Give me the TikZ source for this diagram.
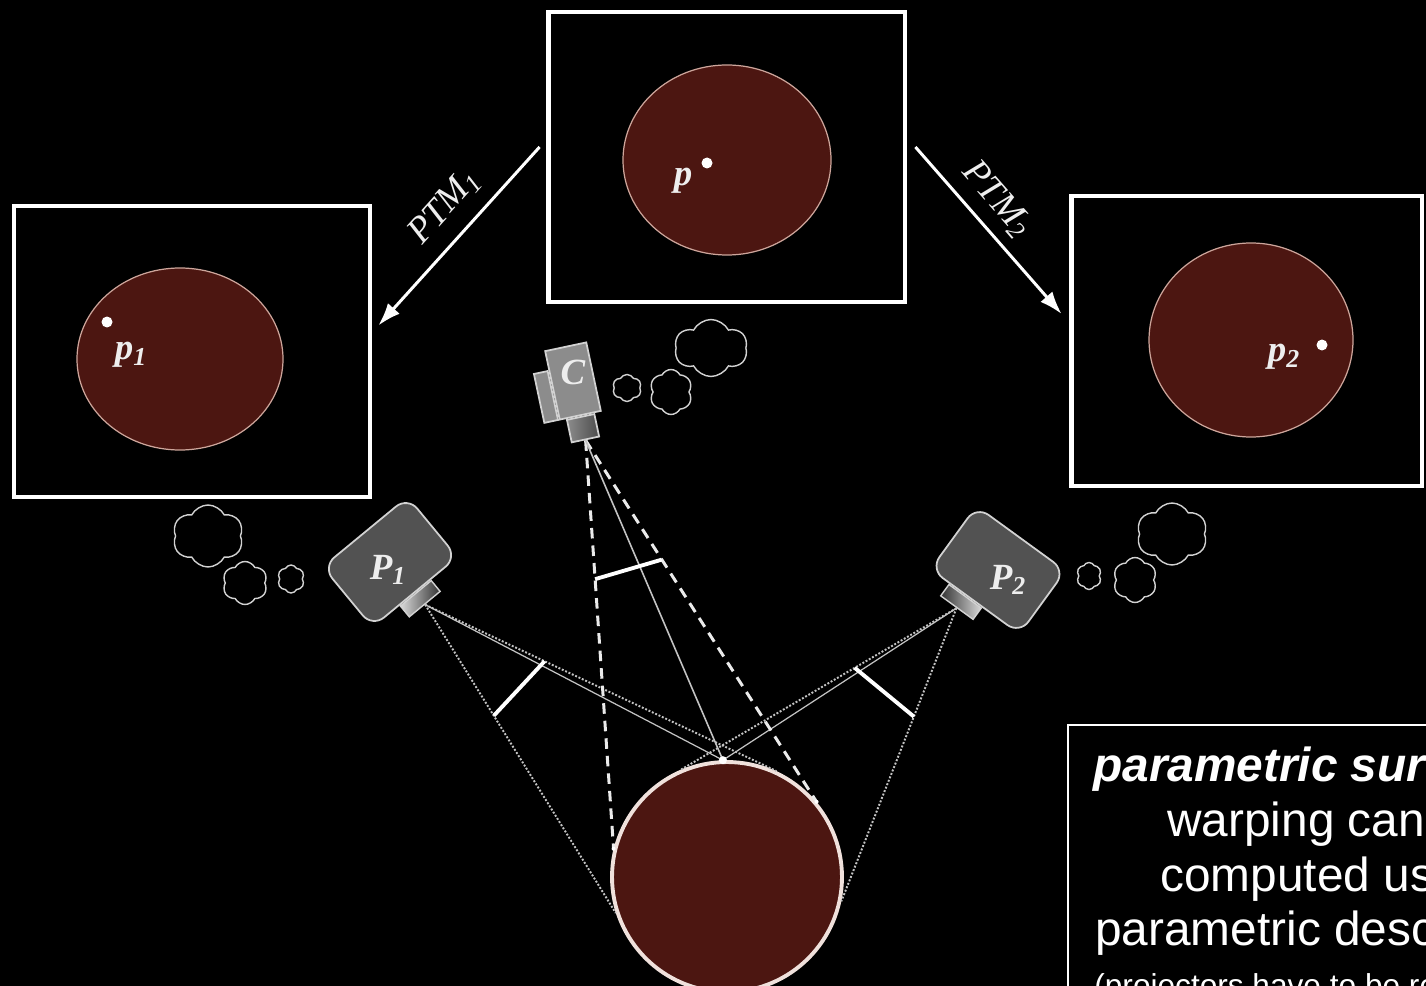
\documentclass[tikz,border=0pt]{standalone}
\usepackage{fontspec}
\setmainfont{Liberation Sans}
\newfontfamily\lblfont{Liberation Serif}
\usetikzlibrary{calc,shapes.symbols,arrows.meta}

\definecolor{surfred}{RGB}{76,22,17}
\definecolor{surfrim}{RGB}{205,165,155}
\definecolor{projgray}{RGB}{82,82,82}
\definecolor{camgray}{RGB}{140,140,140}
\definecolor{edgegray}{RGB}{210,210,210}
\definecolor{raygray}{RGB}{195,195,195}
\definecolor{lblwhite}{RGB}{238,238,238}

\tikzset{
  frame/.style={draw=white, line width=2.8pt, inner sep=0, minimum height=5.8cm},
  surfline/.style={draw=surfrim, line width=0.7pt, fill=surfred},
  pdot/.style={circle, fill=white, inner sep=0, minimum size=0.22cm},
  lbl/.style={text=lblwhite, inner sep=1pt, font=\lblfont\bfseries\itshape\fontsize{21}{21}\selectfont},
  ptmlbl/.style={text=lblwhite, inner sep=2pt, font=\lblfont\itshape\fontsize{21}{21}\selectfont},
  proj/.style={draw=edgegray, line width=1pt, fill=projgray, rounded corners=0.3cm,
    minimum width=2.2cm, minimum height=1.56cm, inner sep=0},
  lens/.style={draw=edgegray, line width=0.8pt, left color=white!85!black, right color=black!80,
    minimum width=0.8cm, minimum height=0.28cm, inner sep=0},
  cambody/.style={draw=edgegray, line width=1pt, fill=camgray, minimum width=0.84cm, minimum height=1.4cm, inner sep=0},
  campart/.style={draw=edgegray, line width=1pt, fill=camgray, minimum width=0.28cm, minimum height=1cm, inner sep=0},
  camlens/.style={draw=edgegray, line width=1pt, left color=camgray, right color=black!70,
    minimum width=0.56cm, minimum height=0.46cm, inner sep=0},
  puff/.style={cloud, draw=edgegray, line width=0.8pt, cloud puffs=6, cloud puff arc=125,
    cloud ignores aspect, inner sep=0},
  surface/.style={circle, draw={rgb,255:red,240;green,225;blue,220}, line width=2.2pt, fill=surfred,
    minimum size=4.6cm, inner sep=0},
  ptm/.style={draw=white, line width=1.7pt, -{Latex[length=13pt,width=9pt]}},
  frust/.style={draw=raygray, line width=1.1pt, densely dotted},
  ray/.style={draw=raygray, line width=0.7pt},
  camray/.style={draw=white!92!black, line width=1.7pt, dash pattern=on 6pt off 4pt},
  plane/.style={draw=white, line width=2.2pt},
  txt/.style={text=white, anchor=base west, inner sep=0, font=\fontsize{27.2}{31}\selectfont}
}

\begin{document}
\begin{tikzpicture}[x=0.02cm, y=-0.02cm]
\useasboundingbox (0,0) rectangle (1426,986);
\fill[black] (0,0) rectangle (1426,986);
\clip (0,0) rectangle (1426,986);

% the three views
\node[frame, minimum width=7.14cm] (top) at (726.5,157) {};
\draw[surfline] (727,160) ellipse [x radius=104, y radius=95];
\node[pdot] (d0) at (707,163) {};
\node[lbl] (lp) at (683,181) {p};

\node[frame, minimum width=7.12cm, minimum height=5.82cm] (lbox) at (192,351.5) {};
\draw[surfline] (180,359) ellipse [x radius=103, y radius=91];
\node[pdot] (d1) at (107,322) {};
\node[lbl] (lp1) at (131,355) {p\textsubscript{1}};

\node[frame, minimum width=7.02cm] (rbox) at (1246.5,341) {};
\draw[surfline] (1251,340) ellipse [x radius=102, y radius=97];
\node[pdot] (d2) at (1322,345) {};
\node[lbl] (lp2) at (1284,357) {p\textsubscript{2}};

\draw[ptm] ([shift={(-6,-10)}]top.west) -- node[pos=0.45, sloped, above=6pt, ptmlbl] (ptm1) {PTM\textsubscript{1}} ([shift={(6,-26)}]lbox.east);
\draw[ptm] ([shift={(8,-10)}]top.east) -- node[pos=0.42, sloped, above=4pt, ptmlbl] (ptm2) {PTM\textsubscript{2}} ([shift={(-7,-27)}]rbox.west);

% projectors and camera
\node[proj, rotate=39.5] (p1) at (390,562) {};
\node[lens, rotate=39.5, anchor=north] (l1) at (p1.south) {};
\node[lbl] (lP1) at (388,570) {P\textsubscript{1}};

\node[proj, rotate=-36] (p2) at (998,570) {};
\node[lens, rotate=-36, anchor=north, left color=black!80, right color=white!85!black] (l2) at ($(p2.south)!0.2!(p2.south west)$) {};
\node[lbl] (lP2) at (1008,580) {P\textsubscript{2}};

\node[cambody, rotate=12] (cam) at (573,381) {};
\node[campart, rotate=12, anchor=south east] (cside) at (cam.south west) {};
\node[camlens, rotate=12, anchor=north] (clens) at (cam.south) {};
\node[lbl] (lC) at (573,372) {C};

% thought clouds
\node[puff, minimum width=1.42cm, minimum height=1.24cm] (q1) at (208,536) {};
\node[puff, minimum width=0.9cm, minimum height=0.86cm] (q2) at (245,583) {};
\node[puff, minimum width=0.54cm, minimum height=0.56cm] (q3) at (291,579) {};
\node[puff, minimum width=0.58cm, minimum height=0.54cm] (q4) at (627,388) {};
\node[puff, minimum width=0.86cm, minimum height=0.9cm] (q5) at (671,392) {};
\node[puff, minimum width=1.46cm, minimum height=1.14cm] (q6) at (711,348) {};
\node[puff, minimum width=0.5cm, minimum height=0.54cm] (q7) at (1089,576) {};
\node[puff, minimum width=0.88cm, minimum height=0.9cm] (q8) at (1135,580) {};
\node[puff, minimum width=1.42cm, minimum height=1.24cm] (q9) at (1172,534) {};

% surface and rays
\node[surface] (surf) at (727,877) {};

\draw[frust] (l1.south) -- (surf.198);
\draw[frust] (l1.south) -- (surf.65);
\draw[ray] (l1.south) -- (surf.92);
\draw[frust] (l2.south) -- (surf.113);
\draw[frust] (l2.south) -- (surf.-12);
\draw[ray] (l2.south) -- (surf.92);
\draw[camray] (clens.south) -- (surf.166);
\draw[camray] (clens.south) -- (surf.40);
\draw[ray, line width=0.9pt] (clens.south) -- (surf.92);

\draw[plane] ($(l1.south)!0.36!(surf.198)$) -- ($(l1.south)!0.34!(surf.65)$);
\draw[plane] ($(l2.south)!0.37!(surf.113)$) -- ($(l2.south)!0.37!(surf.-12)$);
\draw[plane] ($(clens.south)!0.34!(surf.166)$) -- ($(clens.south)!0.33!(surf.40)$);

\node[circle, fill=white, inner sep=0, minimum size=0.16cm] (sp) at (surf.92) {};
\node[circle, fill=white, inner sep=0, minimum size=0.08cm] (sl) at (surf.166) {};
\node[circle, fill=white, inner sep=0, minimum size=0.08cm] (sr) at (surf.40) {};

% note box
\draw[white, line width=1.2pt, fill=black] (1068,725) rectangle (1460,1010);
\node[txt] (t1) at (1093,781) {\bfseries\itshape parametric sur};
\node[txt] (t2) at (1167,836) {warping can};
\node[txt] (t3) at (1160,891) {computed us};
\node[txt] (t4) at (1095,945) {parametric desc};
\node[txt, font=\fontsize{18}{21}\selectfont] (t5) at (1094,996) {(projectors have to be re};
\end{tikzpicture}
\end{document}
